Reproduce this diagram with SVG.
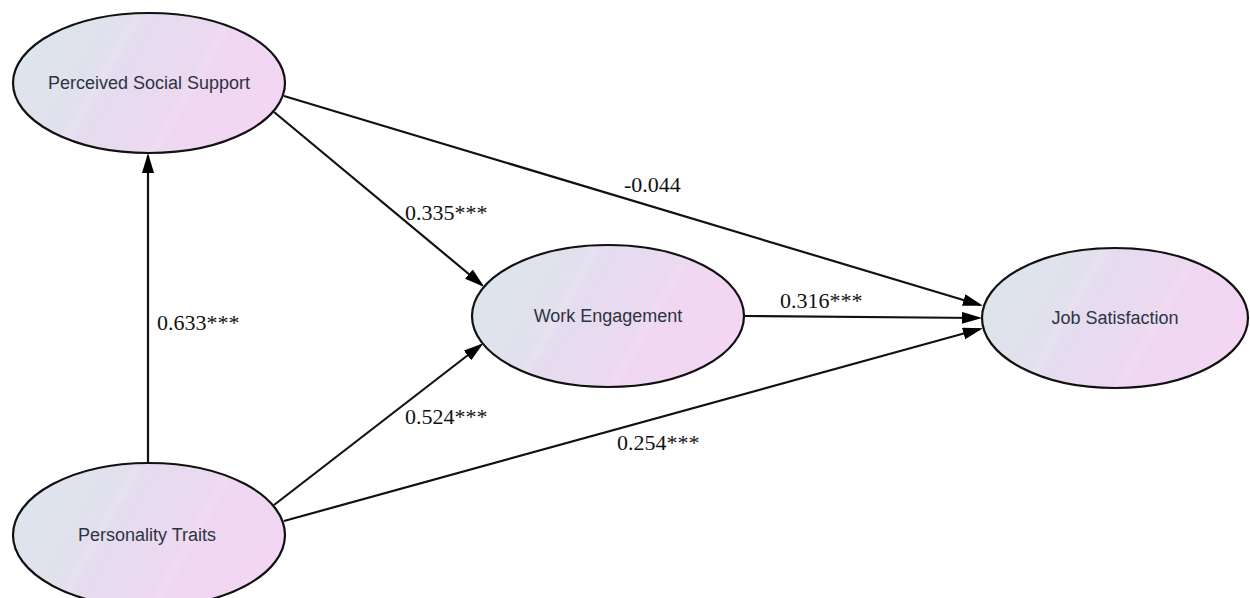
<svg xmlns="http://www.w3.org/2000/svg" width="1250" height="598" viewBox="0 0 1250 598">
  <defs>
    <linearGradient id="nodeFill" x1="0" y1="0.35" x2="1" y2="0.65">
      <stop offset="0" stop-color="#dce5ec"/>
      <stop offset="0.3" stop-color="#e2e0ee"/>
      <stop offset="0.33" stop-color="#e7e2f0"/>
      <stop offset="0.36" stop-color="#e4dcef"/>
      <stop offset="0.62" stop-color="#ecd9f0"/>
      <stop offset="0.65" stop-color="#f0dcf2"/>
      <stop offset="0.68" stop-color="#efd7f1"/>
      <stop offset="1" stop-color="#f3d6f3"/>
    </linearGradient>
    <marker id="arrow" markerUnits="userSpaceOnUse" markerWidth="22" markerHeight="14" refX="17" refY="6" orient="auto">
      <path d="M0,0 L20,6 L0,12 Z" fill="#000"/>
    </marker>
    <style>
      .node ellipse { fill: url(#nodeFill); stroke: #111; stroke-width: 2.2; }
      .node text { font-family: "Liberation Sans", Arial, sans-serif; font-size: 18px; fill: #2c3442; text-anchor: middle; dominant-baseline: central; }
      .edge { stroke: #111; stroke-width: 2.2; fill: none; marker-end: url(#arrow); }
      .coef { font-family: "Liberation Serif", "Times New Roman", serif; font-size: 22px; fill: #111; }
    </style>
  </defs>

  <rect width="1250" height="598" fill="#fff"/>

  <!-- path connectors -->
  <g id="connectors">
    <line class="edge" x1="148" y1="463" x2="148" y2="156"/>
    <line class="edge" x1="274" y1="112" x2="482" y2="285"/>
    <line class="edge" x1="284" y1="96" x2="980" y2="305"/>
    <line class="edge" x1="744" y1="316" x2="979" y2="318"/>
    <line class="edge" x1="274" y1="505" x2="481" y2="345"/>
    <line class="edge" x1="284" y1="521" x2="980" y2="329"/>
  </g>

  <!-- path coefficients -->
  <g id="coefficients">
    <text class="coef" x="157" y="330">0.633***</text>
    <text class="coef" x="405" y="220">0.335***</text>
    <text class="coef" x="624" y="192">-0.044</text>
    <text class="coef" x="780" y="308">0.316***</text>
    <text class="coef" x="405" y="424">0.524***</text>
    <text class="coef" x="617" y="450">0.254***</text>
  </g>

  <!-- latent constructs -->
  <g id="node-pss" class="node">
    <ellipse cx="149" cy="83" rx="136" ry="70"/>
    <text x="149" y="83">Perceived Social Support</text>
  </g>
  <g id="node-we" class="node">
    <ellipse cx="608" cy="316" rx="136" ry="71"/>
    <text x="608" y="316">Work Engagement</text>
  </g>
  <g id="node-js" class="node">
    <ellipse cx="1115" cy="318" rx="133" ry="70"/>
    <text x="1115" y="318">Job Satisfaction</text>
  </g>
  <g id="node-pt" class="node">
    <ellipse cx="149" cy="535" rx="136" ry="72"/>
    <text x="147" y="535">Personality Traits</text>
  </g>
</svg>
